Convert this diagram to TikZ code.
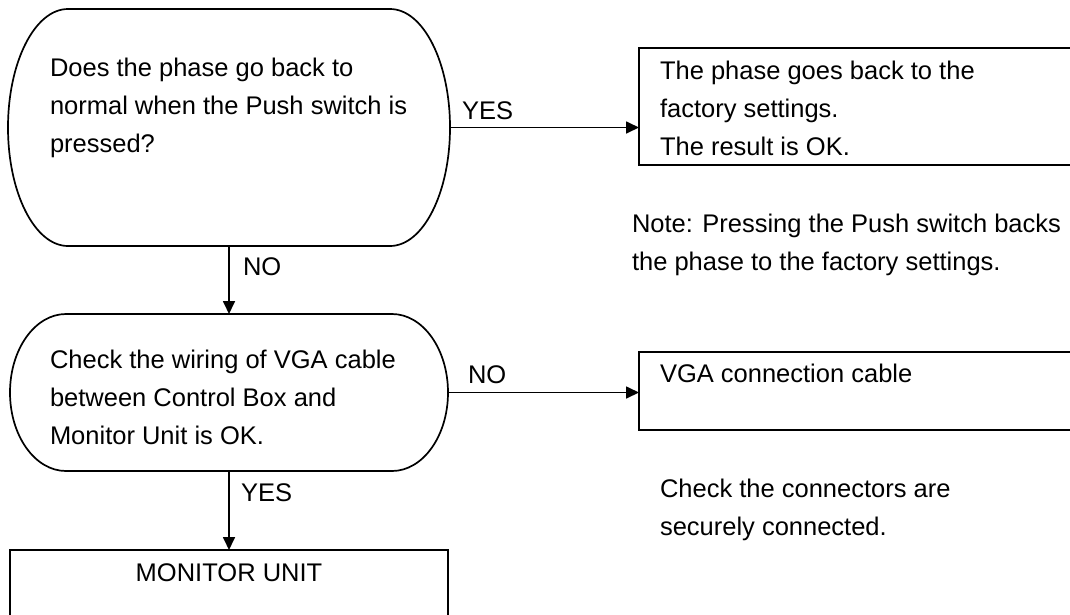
\documentclass[tikz,border=0pt]{standalone}
\usepackage{fontspec}
\setmainfont{Liberation Sans}
\usetikzlibrary{arrows.meta}
\begin{document}
\begin{tikzpicture}[x=1pt,y=-1pt,
  line width=1.7pt,
  every node/.style={inner sep=0pt, outer sep=0pt},
  % multi-line blocks are placed by the baseline of their last line
  txt/.style={font=\fontsize{25.5}{38}\selectfont, align=left, anchor=base west},
  lbl/.style={font=\fontsize{25.5}{30}\selectfont, anchor=base west},
  arr/.style={-{Triangle[length=13pt,width=12pt]}},
]
% canvas
\fill[white] (0,0) rectangle (1070,614);
\useasboundingbox (0,0) rectangle (1070,614);
\clip (0,0) rectangle (1070,614);

% first question (stadium outline drawn around an invisible frame node)
\node[minimum width=442pt, minimum height=237pt] (q1) at (229,127.5) {};
\draw ([xshift=60pt]q1.north west) -- ([xshift=-60pt]q1.north east)
  arc[start angle=90, end angle=-90, x radius=60pt, y radius=118.5pt]
  -- ([xshift=60pt]q1.south west)
  arc[start angle=270, end angle=90, x radius=60pt, y radius=118.5pt] -- cycle;
\node[txt] (q1t) at (50,152.5) {Does the phase go back to\\normal when the Push switch is\\pressed?};

% second question
\node[minimum width=438pt, minimum height=157pt] (q2) at (229,392.5) {};
\draw ([xshift=56pt]q2.north west) -- ([xshift=-56pt]q2.north east)
  arc[start angle=90, end angle=-90, x radius=56pt, y radius=78.5pt]
  -- ([xshift=56pt]q2.south west)
  arc[start angle=270, end angle=90, x radius=56pt, y radius=78.5pt] -- cycle;
\node[txt] (q2t) at (50,444) {Check the wiring of VGA cable\\between Control Box and\\Monitor Unit is OK.};

% result boxes (running off the right edge)
\node[draw, minimum width=470pt, minimum height=117pt, anchor=north west] (r1) at (639,48) {};
\node[txt] (r1t) at (660,155.5) {The phase goes back to the\\factory settings.\\The result is OK.};
\node[txt] (note) at (632,270.5) {Note: Pressing the Push switch backs\\the phase to the factory settings.};

\node[draw, minimum width=470pt, minimum height=78pt, anchor=north west] (r2) at (639,352) {};
\node[txt] (r2t) at (660,382) {VGA connection cable};
\node[txt] (chk) at (660,535) {Check the connectors are\\securely connected.};

% monitor unit box (running off the bottom edge)
\node[draw, minimum width=438pt, minimum height=110pt, anchor=north] (mu) at (229,550) {};
\node[font=\fontsize{25.5}{30}\selectfont, anchor=base] (mut) at (229,581) {MONITOR UNIT};

% connectors
\draw[arr] (q1.east) -- (q1.east -| r1.west);
\draw[arr] (q1.south) -- (q2.north);
\draw[arr] (q2.east) -- (q2.east -| r2.west);
\draw[arr] (q2.south) -- (mu.north);

% branch labels
\node[lbl] (yes1) at (462,119) {YES};
\node[lbl] (no1) at (243,275.5) {NO};
\node[lbl] (no2) at (468,383) {NO};
\node[lbl] (yes2) at (241,501) {YES};
\end{tikzpicture}
\end{document}
